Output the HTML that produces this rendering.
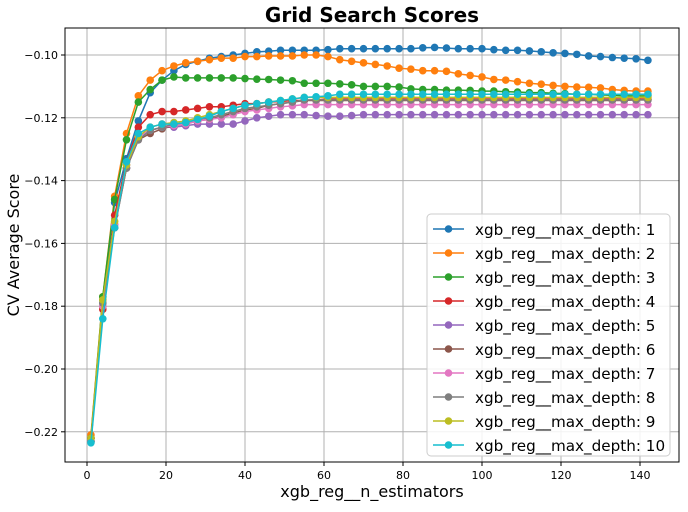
<!DOCTYPE html>
<html><head><meta charset="utf-8"><style>
body{margin:0;background:#fff;font-family:"Liberation Sans","DejaVu Sans",sans-serif}
svg text{font-family:"DejaVu Sans","Liberation Sans",sans-serif}
</style></head><body>
<svg id="chart" width="688" height="507" xmlns="http://www.w3.org/2000/svg"></svg>
<script>
const xValues=[1,4,7,10,13,16,19,22,25,28,31,34,37,40,43,46,49,52,55,58,61,64,67,70,73,76,79,82,85,88,91,94,97,100,103,106,109,112,115,118,121,124,127,130,133,136,139,142];
const depth1=[-0.222,-0.178,-0.147,-0.133,-0.121,-0.112,-0.108,-0.105,-0.103,-0.102,-0.101,-0.1005,-0.1,-0.0995,-0.099,-0.0988,-0.0985,-0.0985,-0.0985,-0.0985,-0.0983,-0.098,-0.098,-0.098,-0.098,-0.098,-0.098,-0.098,-0.0977,-0.0976,-0.0978,-0.098,-0.098,-0.098,-0.0983,-0.0985,-0.0985,-0.0987,-0.099,-0.0993,-0.0995,-0.0998,-0.1003,-0.1005,-0.1008,-0.101,-0.1012,-0.1017];
const depth2=[-0.221,-0.177,-0.145,-0.125,-0.113,-0.108,-0.105,-0.1035,-0.1025,-0.102,-0.1015,-0.101,-0.101,-0.1005,-0.1005,-0.1003,-0.1003,-0.1003,-0.1,-0.1,-0.1005,-0.1015,-0.102,-0.1025,-0.103,-0.1035,-0.1042,-0.1045,-0.105,-0.105,-0.1052,-0.106,-0.1065,-0.107,-0.1078,-0.108,-0.1085,-0.109,-0.1093,-0.1097,-0.11,-0.1102,-0.1103,-0.1105,-0.111,-0.1113,-0.1115,-0.1115];
const depth3=[-0.222,-0.177,-0.146,-0.127,-0.115,-0.111,-0.108,-0.107,-0.1073,-0.1073,-0.1073,-0.1073,-0.1073,-0.1075,-0.1077,-0.1078,-0.108,-0.1082,-0.109,-0.109,-0.109,-0.1092,-0.1095,-0.11,-0.11,-0.11,-0.1102,-0.1108,-0.111,-0.111,-0.1112,-0.1112,-0.1113,-0.1115,-0.1115,-0.1117,-0.1118,-0.112,-0.112,-0.1122,-0.1123,-0.1125,-0.1125,-0.1127,-0.1128,-0.113,-0.113,-0.113];
const depth4=[-0.222,-0.181,-0.151,-0.134,-0.123,-0.119,-0.118,-0.118,-0.1175,-0.117,-0.1165,-0.1165,-0.116,-0.1155,-0.1155,-0.115,-0.1148,-0.1145,-0.1145,-0.1143,-0.114,-0.114,-0.114,-0.114,-0.114,-0.114,-0.114,-0.114,-0.114,-0.114,-0.114,-0.114,-0.114,-0.114,-0.114,-0.114,-0.114,-0.114,-0.114,-0.114,-0.114,-0.114,-0.114,-0.114,-0.114,-0.114,-0.114,-0.114];
const depth5=[-0.223,-0.179,-0.154,-0.136,-0.127,-0.124,-0.123,-0.123,-0.1225,-0.122,-0.122,-0.122,-0.122,-0.121,-0.12,-0.1195,-0.119,-0.119,-0.119,-0.1193,-0.1195,-0.1195,-0.1193,-0.119,-0.119,-0.119,-0.119,-0.119,-0.119,-0.119,-0.119,-0.119,-0.119,-0.119,-0.119,-0.119,-0.119,-0.119,-0.119,-0.119,-0.119,-0.119,-0.119,-0.119,-0.119,-0.119,-0.119,-0.119];
const depth6=[-0.223,-0.18,-0.155,-0.136,-0.127,-0.125,-0.1235,-0.1225,-0.122,-0.121,-0.1205,-0.1195,-0.1185,-0.1175,-0.117,-0.116,-0.1155,-0.115,-0.1145,-0.1145,-0.1145,-0.1145,-0.1145,-0.1145,-0.1145,-0.1145,-0.1145,-0.1145,-0.1145,-0.1145,-0.1145,-0.1145,-0.1145,-0.1145,-0.1145,-0.1145,-0.1145,-0.1145,-0.1145,-0.1145,-0.1145,-0.1145,-0.1145,-0.1145,-0.1145,-0.1145,-0.1143,-0.1143];
const depth7=[-0.223,-0.18,-0.154,-0.135,-0.126,-0.124,-0.123,-0.1225,-0.122,-0.121,-0.1205,-0.12,-0.119,-0.118,-0.1175,-0.117,-0.1165,-0.1162,-0.1158,-0.1158,-0.1158,-0.1158,-0.1158,-0.1158,-0.1158,-0.1158,-0.1158,-0.1158,-0.1158,-0.1158,-0.1158,-0.1158,-0.1158,-0.1158,-0.1158,-0.1158,-0.1158,-0.1158,-0.1158,-0.1158,-0.1158,-0.1158,-0.1158,-0.1158,-0.1158,-0.1158,-0.1158,-0.1158];
const depth8=[-0.223,-0.179,-0.155,-0.136,-0.127,-0.124,-0.123,-0.122,-0.1215,-0.1205,-0.12,-0.119,-0.118,-0.117,-0.1165,-0.116,-0.1155,-0.115,-0.1143,-0.1143,-0.1143,-0.1143,-0.1143,-0.1143,-0.1143,-0.1143,-0.1143,-0.1143,-0.1143,-0.1143,-0.1143,-0.1143,-0.1143,-0.1143,-0.1143,-0.1143,-0.1143,-0.1143,-0.1143,-0.1143,-0.1143,-0.1143,-0.1143,-0.1143,-0.1143,-0.1143,-0.1143,-0.1143];
const depth9=[-0.222,-0.178,-0.153,-0.135,-0.126,-0.123,-0.122,-0.1215,-0.121,-0.12,-0.119,-0.118,-0.117,-0.116,-0.1155,-0.115,-0.1145,-0.114,-0.1135,-0.1135,-0.1135,-0.1135,-0.1135,-0.1135,-0.1135,-0.1135,-0.1135,-0.1135,-0.1135,-0.1135,-0.1135,-0.1135,-0.1135,-0.1135,-0.1135,-0.1135,-0.1135,-0.1135,-0.1135,-0.1135,-0.1135,-0.1135,-0.1135,-0.1135,-0.1135,-0.1135,-0.1135,-0.1135];
const depth10=[-0.2235,-0.184,-0.155,-0.134,-0.125,-0.123,-0.122,-0.122,-0.1215,-0.1205,-0.1195,-0.118,-0.117,-0.116,-0.1155,-0.115,-0.1145,-0.114,-0.1135,-0.1133,-0.113,-0.1125,-0.1125,-0.1125,-0.1125,-0.1125,-0.1125,-0.1125,-0.1125,-0.1125,-0.1125,-0.1125,-0.1125,-0.1125,-0.1125,-0.1125,-0.1125,-0.1125,-0.1125,-0.1125,-0.1125,-0.1125,-0.1125,-0.1125,-0.1125,-0.1125,-0.1125,-0.1125];
const seriesLabels=["1","2","3","4","5","6","7","8","9","10"];
const xTicks=[0,20,40,60,80,100,120,140];
const yTicks=[-0.22,-0.20,-0.18,-0.16,-0.14,-0.12,-0.10];
const allSeries=[depth1,depth2,depth3,depth4,depth5,depth6,depth7,depth8,depth9,depth10];
const colors=["#1f77b4","#ff7f0e","#2ca02c","#d62728","#9467bd","#8c564b","#e377c2","#7f7f7f","#bcbd22","#17becf"];

const NS="http://www.w3.org/2000/svg";
const svg=document.getElementById('chart');
const L=65,R=679,T=28,B=462;
const xs=v=>87+v*3.95;
const ys=v=>55+(-0.10-v)/0.02*62.8;
function mk(tag,attrs,parent){const e=document.createElementNS(NS,tag);for(const k in attrs)e.setAttribute(k,attrs[k]);(parent||svg).appendChild(e);return e;}

const grid=mk('g',{});


xTicks.forEach(t=>{
  const x=xs(t);
  mk('line',{x1:x,x2:x,y1:T,y2:B,stroke:'#b0b0b0','stroke-width':1},grid);
  mk('line',{x1:x,x2:x,y1:B,y2:B+4,stroke:'#000'},grid);
  const tx=mk('text',{x:x,y:B+17,'text-anchor':'middle','font-size':11},grid);
  
  
  tx.textContent=t;
});
yTicks.forEach(t=>{
  const y=ys(t);
  mk('line',{x1:L,x2:R,y1:y,y2:y,stroke:'#b0b0b0','stroke-width':1},grid);
  mk('line',{x1:L-4,x2:L,y1:y,y2:y,stroke:'#000'},grid);
  const tx=mk('text',{x:L-7,y:y+4,'text-anchor':'end','font-size':11},grid);
  
  
  tx.textContent=t.toFixed(2).replace('-','\u2212');
});

allSeries.forEach((s,i)=>{
  const g=mk('g',{});
  
  
  const pts=s.map((v,j)=>xs(xValues[j])+','+ys(v)).join(' ');
  mk('polyline',{points:pts,fill:'none',stroke:colors[i],'stroke-width':1.5},g);
  s.forEach((v,j)=>{
    const c=mk('circle',{cx:xs(xValues[j]),cy:ys(v),r:3.8,fill:colors[i]},g);
    
    
  });
});

mk('rect',{x:L,y:T,width:R-L,height:B-T,fill:'none',stroke:'#000','stroke-width':1});

const title=mk('text',{x:372,y:22,'text-anchor':'middle','font-size':20,'font-weight':'bold'});


title.textContent='Grid Search Scores';
const xl=mk('text',{x:372,y:497,'text-anchor':'middle','font-size':16});


xl.textContent='xgb_reg__n_estimators';
const yl=mk('text',{x:0,y:0,'text-anchor':'middle','font-size':16,transform:'translate(19,245) rotate(-90)'});


yl.textContent='CV Average Score';

const leg=mk('g',{});


mk('rect',{x:427,y:214,width:243,height:242,rx:4,fill:'#fff','fill-opacity':0.85,stroke:'#ccc'},leg);
seriesLabels.forEach((lab,i)=>{
  const y=229+i*24;
  const e=mk('g',{},leg);
  
  
  mk('line',{x1:433,x2:464,y1:y,y2:y,stroke:colors[i],'stroke-width':1.5},e);
  mk('circle',{cx:448.5,cy:y,r:3.8,fill:colors[i]},e);
  const t=mk('text',{x:475,y:y+6,'font-size':15.2},e);
  t.textContent='xgb_reg__max_depth: '+lab;
});
</script>
</body></html>
